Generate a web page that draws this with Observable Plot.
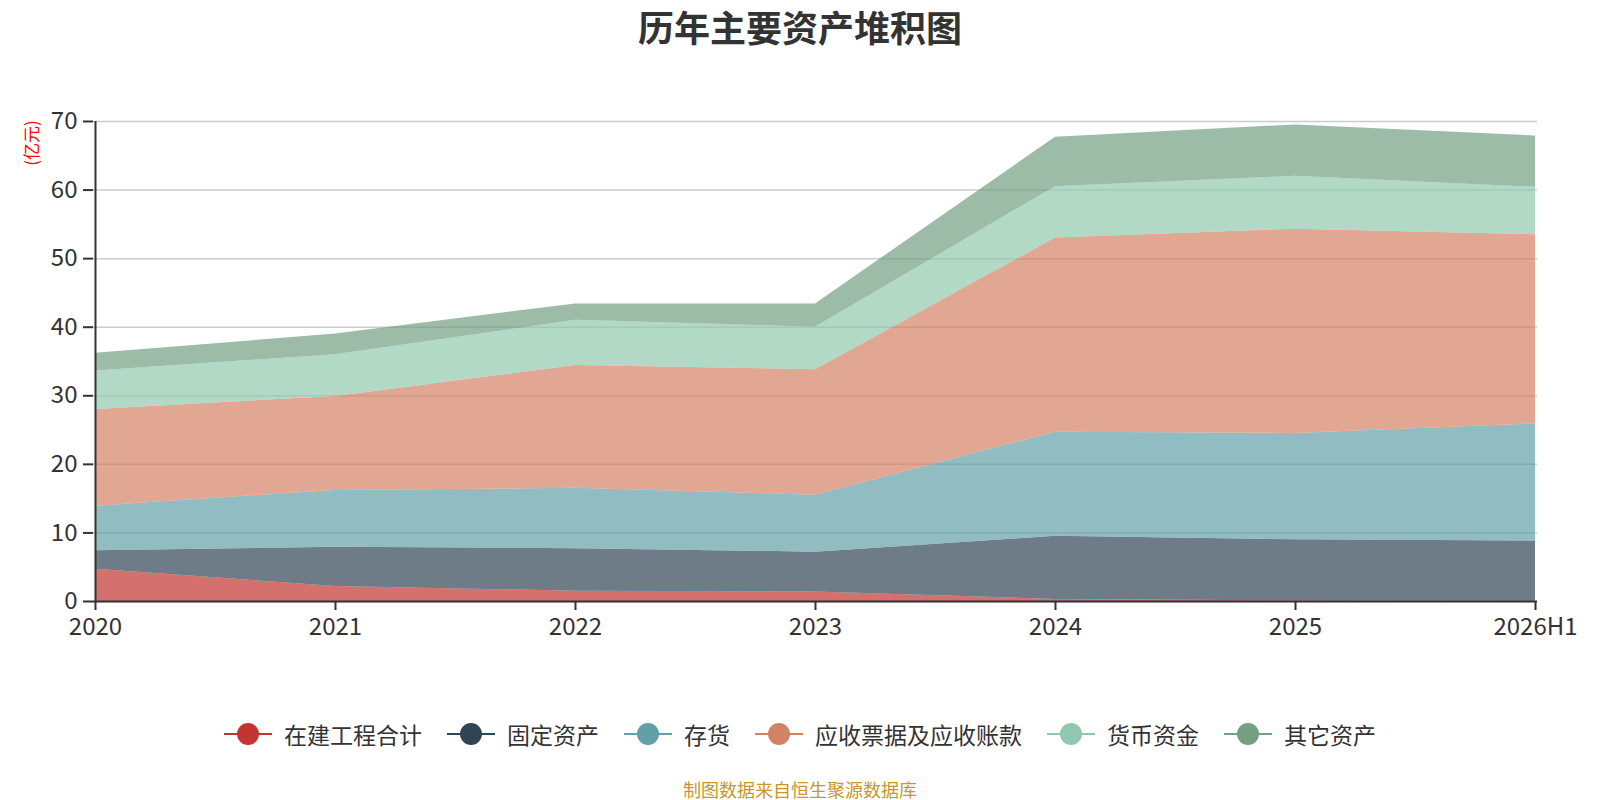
<!DOCTYPE html>
<html>
<head>
<meta charset="utf-8">
<script src="https://cdn.jsdelivr.net/npm/d3@7"></script>
<script src="https://cdn.jsdelivr.net/npm/@observablehq/plot@0.6"></script>
<style>
  html, body { margin: 0; padding: 0; background: #fff; }
  body { width: 1600px; height: 800px; position: relative; overflow: hidden;
         font-family: "Noto Sans CJK SC", "Noto Sans", sans-serif; }
  #chart { position: absolute; left: 0; top: 0; z-index: 0; }
  #title { position: absolute; left: 0; width: 1600px; top: 0; line-height: 52px; text-align: center;
           font-size: 36px; font-weight: bold; color: #333; z-index: 2; }
  #ylabel { position: absolute; left: 31px; top: 143px; transform: translate(-50%, -50%) rotate(-90deg);
            color: #ff0000; font-size: 17px; white-space: nowrap; z-index: 2; line-height: 20px; }
  #legend { position: absolute; left: 0; width: 1600px; top: 717px; height: 34px; display: flex; justify-content: center;
            align-items: center; gap: 25px; font-size: 23px; color: #333; z-index: 2; }
  .item { display: flex; align-items: center; gap: 12px; height: 34px; line-height: 34px; }
  .item svg { display: block; }
  #source { position: absolute; left: 0; width: 1600px; top: 777px; line-height: 24px; text-align: center;
            font-size: 18px; color: #c9962b; z-index: 2; }
</style>
</head>
<body>
<div id="chart"></div>
<div id="title">历年主要资产堆积图</div>
<div id="ylabel">(亿元)</div>
<div id="legend"></div>
<div id="source">制图数据来自恒生聚源数据库</div>
<script>
const years = ["2020", "2021", "2022", "2023", "2024", "2025", "2026H1"];
const seriesNames = ["在建工程合计", "固定资产", "存货", "应收票据及应收账款", "货币资金", "其它资产"];
const colors = ["#c23531", "#2f4554", "#61a0a8", "#d48265", "#91c7ae", "#749f83"];
const yTicks = [0, 10, 20, 30, 40, 50, 60, 70];

const zaijian   = [4.7, 2.2, 1.5, 1.4, 0.3, 0.1, 0.05];
const guding    = [2.7, 5.7, 6.2, 5.8, 9.2, 8.9, 8.75];
const cunhuo    = [6.5, 8.3, 8.8, 8.3, 15.2, 15.5, 17.1];
const yingshou  = [14.1, 13.7, 17.9, 18.3, 28.3, 29.8, 27.6];
const huobi     = [5.6, 6.1, 6.6, 6.2, 7.5, 7.7, 6.9];
const qita      = [2.6, 3.0, 2.4, 3.4, 7.2, 7.5, 7.5];

const seriesValues = [zaijian, guding, cunhuo, yingshou, huobi, qita];
const data = [];
seriesNames.forEach((name, i) => {
  years.forEach((yr, j) => data.push({series: name, year: yr, value: seriesValues[i][j]}));
});

const plot = Plot.plot({
  width: 1600,
  height: 680,
  marginLeft: 93,
  marginRight: 63,
  marginTop: 121,
  marginBottom: 79,
  style: {fontFamily: '"Noto Sans CJK SC", "Noto Sans", sans-serif', fontSize: "24px", color: "#333", background: "transparent"},
  x: {type: "point", domain: years, padding: 0},
  y: {domain: [0, 70]},
  color: {domain: seriesNames, range: colors},
  marks: [
    Plot.gridY(yTicks, {stroke: "#ccc", strokeOpacity: 1, strokeWidth: 1.5}),
    Plot.areaY(data, {x: "year", y: "value", z: "series", fill: "series", fillOpacity: 0.7, order: seriesNames}),
    Plot.ruleX([years[0]], {stroke: "#333", strokeWidth: 2}),
    Plot.ruleY([0], {stroke: "#333", strokeWidth: 2}),
    Plot.axisY(yTicks, {tickSize: 10, tickPadding: 6, fontSize: 24, stroke: "#333", strokeWidth: 2, fill: "#333", label: null}),
    Plot.axisX(years, {tickSize: 9, tickPadding: 7, fontSize: 24, stroke: "#333", strokeWidth: 2, fill: "#333", label: null})
  ]
});
document.getElementById("chart").appendChild(plot);

const legend = document.getElementById("legend");
seriesNames.forEach((name, i) => {
  const item = document.createElement("div");
  item.className = "item";
  item.innerHTML = `<svg width="48" height="26"><line x1="0" x2="48" y1="13" y2="13" stroke="${colors[i]}" stroke-width="2"/><circle cx="24" cy="13" r="11" fill="${colors[i]}"/></svg><span>${name}</span>`;
  legend.appendChild(item);
});
</script>
</body>
</html>
